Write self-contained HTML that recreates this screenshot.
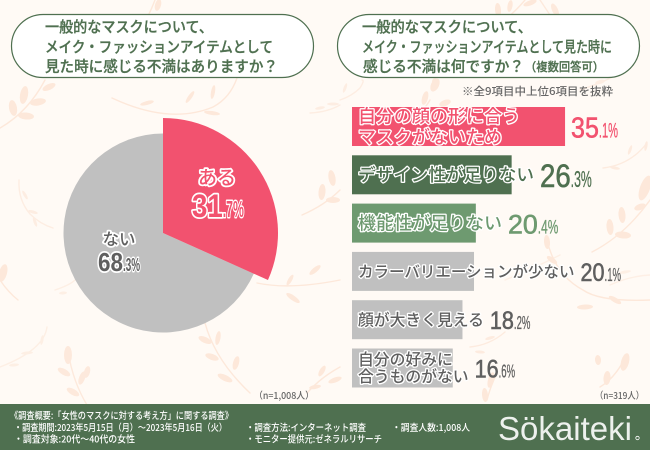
<!DOCTYPE html>
<html lang="ja">
<head>
<meta charset="utf-8">
<title>マスクに対する不満 調査</title>
<style>
html,body{margin:0;padding:0;background:#fffaf5;}
body{width:650px;height:450px;overflow:hidden;}
svg{display:block;}
text{font-family:"Liberation Sans","Noto Sans CJK JP",sans-serif;}
.jp{font-family:"Noto Sans CJK JP","Liberation Sans",sans-serif;font-weight:500;}
.hd{stroke:#4f7050;stroke-width:.3;}
.outlined{paint-order:stroke fill;stroke:#fff;stroke-linejoin:round;}
</style>
</head>
<body>
<svg id="chart" xmlns="http://www.w3.org/2000/svg" width="650" height="450" viewBox="0 0 650 450">
  <rect x="0" y="0" width="650" height="450" fill="#fffaf5"/>
  <g id="leaves"></g>

  <g>
    <rect x="11.5" y="14.5" width="302" height="63" rx="31.5" fill="#fff" stroke="#4f7050" stroke-width="1.2"/>
    <text class="jp hd" x="45" y="32" font-size="15" fill="#4f7050" textLength="168" lengthAdjust="spacingAndGlyphs">一般的なマスクについて、</text>
    <text class="jp hd" x="45" y="52" font-size="15" fill="#4f7050" textLength="228" lengthAdjust="spacingAndGlyphs">メイク・ファッションアイテムとして</text>
    <text class="jp hd" x="45" y="71.5" font-size="15" fill="#4f7050" textLength="233" lengthAdjust="spacingAndGlyphs">見た時に感じる不満はありますか？</text>
  </g>

  <g>
    <rect x="337.5" y="14.5" width="302" height="63" rx="31.5" fill="#fff" stroke="#4f7050" stroke-width="1.2"/>
    <text class="jp hd" x="362" y="32" font-size="15" fill="#4f7050" textLength="170" lengthAdjust="spacingAndGlyphs">一般的なマスクについて、</text>
    <text class="jp hd" x="362" y="52" font-size="15" fill="#4f7050" textLength="250" lengthAdjust="spacingAndGlyphs">メイク・ファッションアイテムとして見た時に</text>
    <text class="jp hd" x="363" y="71.5" font-size="15" fill="#4f7050" textLength="161" lengthAdjust="spacingAndGlyphs">感じる不満は何ですか？</text>
    <text class="jp hd" x="525" y="71" font-size="12" fill="#4f7050" textLength="79" lengthAdjust="spacingAndGlyphs">（複数回答可）</text>
  </g>

  <text class="jp" x="462" y="95" font-size="11" fill="#666" textLength="151" lengthAdjust="spacingAndGlyphs">※全9項目中上位6項目を抜粋</text>

  <g id="pie"></g>
  <g id="bars"></g>

  <text class="jp" x="254" y="399" font-size="9.5" fill="#666" textLength="60" lengthAdjust="spacingAndGlyphs">（n=1,008人）</text>
  <text class="jp" x="595" y="399" font-size="9.5" fill="#666" textLength="49" lengthAdjust="spacingAndGlyphs">（n=319人）</text>

  <g>
    <rect x="0" y="404" width="650" height="46" fill="#4f7050"/>
    <text class="jp" x="10" y="419" font-size="9.5" fill="#fff" textLength="223" lengthAdjust="spacingAndGlyphs">《調査概要:「女性のマスクに対する考え方」に関する調査》</text>
    <text class="jp" x="14" y="431" font-size="9.5" fill="#fff" textLength="213" lengthAdjust="spacingAndGlyphs">・調査期間:2023年5月15日（月）〜2023年5月16日（火）</text>
    <text class="jp" x="14" y="442.5" font-size="9.5" fill="#fff" textLength="121" lengthAdjust="spacingAndGlyphs">・調査対象:20代〜40代の女性</text>
    <text class="jp" x="246" y="431" font-size="9.5" fill="#fff" textLength="120" lengthAdjust="spacingAndGlyphs">・調査方法:インターネット調査</text>
    <text class="jp" x="246" y="442.5" font-size="9.5" fill="#fff" textLength="136" lengthAdjust="spacingAndGlyphs">・モニター提供元:ゼネラルリサーチ</text>
    <text class="jp" x="392" y="431" font-size="9.5" fill="#fff" textLength="78" lengthAdjust="spacingAndGlyphs">・調査人数:1,008人</text>
    <text x="498" y="440" font-size="33" fill="#fff" opacity="0.9" textLength="134" lengthAdjust="spacing">Sökaiteki</text>
    <circle cx="637.5" cy="438" r="1.7" fill="none" stroke="#fff" stroke-width="0.8"/>
  </g>
</svg>

<script>
/* ---------- chart data ---------- */
const pieLabels = ['ある', 'ない'];
const pieValues = [31.7, 68.3];
const barLines = [
  ['自分の顔の形に合う', 'マスクがないため'],
  ['デザイン性が足りない'],
  ['機能性が足りない'],
  ['カラーバリエーションが少ない'],
  ['顔が大きく見える'],
  ['自分の好みに', '合うものがない']
];
const barValues = [35.1, 26.3, 20.4, 20.1, 18.2, 16.6];

/* ---------- presentation ---------- */
const NS = 'http://www.w3.org/2000/svg';
const PIE_CX = 163, PIE_CY = 233;
const pieRadius = [115, 99.5];
const pieColors = ['#f2526f', '#c0c0c0'];
const BAR_X = 352, PX_PER_UNIT = 6.07, BAR_H = 39;
const BAR_TOP = 107, BAR_STEP = 48.3;
const barColors = ['#f2526f', '#4f7050', '#6e9a70', '#c0c0c0', '#c0c0c0', '#c0c0c0'];
const textColors = ['#f2526f', '#4f7050', '#6e9a70', '#5f5f5f', '#5f5f5f', '#5f5f5f'];
const labelSizes = [18, 17.6, 18, 15.5, 15.8, 15.8];
const digitSizes = [29, 32, 27, 25, 25, 25];
const valueWidthScale = [1, 1, 1.15, 1, 1, 1];

function el(name, attrs, parent, text) {
  const node = document.createElementNS(NS, name);
  for (const k in attrs) node.setAttribute(k, attrs[k]);
  if (text !== undefined) node.textContent = text;
  parent.appendChild(node);
  return node;
}

/* Value text: big condensed integer part + small condensed decimal part */
function valueText(parent, value, x, baseline, size, color, outlined, name, widthScale) {
  const parts = value.toFixed(1).split('.');
  const bigW = size * 0.96 * widthScale;
  const smallW = size * 0.66 * widthScale;
  const cls = outlined ? 'outlined' : '';
  const big = el('text', {x: x, y: baseline, 'font-size': size, fill: color, class: cls,
    textLength: bigW, lengthAdjust: 'spacingAndGlyphs'}, parent, parts[0]);
  
  
  const small = el('text', {x: x + bigW, y: baseline, 'font-size': size * 0.72, fill: color, class: cls,
    textLength: smallW, lengthAdjust: 'spacingAndGlyphs'}, parent, '.' + parts[1] + '%');
  
  
  if (outlined) {
    big.setAttribute('stroke-width', 3.5);
    small.setAttribute('stroke-width', 3);
    big.setAttribute('font-weight', 'bold');
    small.setAttribute('font-weight', 'bold');
  } else {
    big.setAttribute('stroke', color);
    big.setAttribute('stroke-width', 0.6);
    small.setAttribute('stroke', color);
    small.setAttribute('stroke-width', 0.3);
  }
  return bigW + smallW;
}

/* ---------- pie ---------- */
const pieG = document.getElementById('pie');
const pieTotal = pieValues.reduce((a, b) => a + b, 0);
function pieSlice(startV, spanV, r, color, name) {
  const a0 = startV / pieTotal * 2 * Math.PI, a1 = (startV + spanV) / pieTotal * 2 * Math.PI;
  const x0 = PIE_CX + r * Math.sin(a0), y0 = PIE_CY - r * Math.cos(a0);
  const x1 = PIE_CX + r * Math.sin(a1), y1 = PIE_CY - r * Math.cos(a1);
  const large = (a1 - a0) > Math.PI ? 1 : 0;
  const p = el('path', {d: `M${PIE_CX} ${PIE_CY}L${x0} ${y0}A${r} ${r} 0 ${large} 1 ${x1} ${y1}Z`, fill: color}, pieG);
  
  
}
pieSlice(pieValues[0], pieValues[1], pieRadius[1], pieColors[1], 'pie-slice-no');
pieSlice(0, pieValues[0], pieRadius[0], pieColors[0], 'pie-slice-yes');

const yesLabel = el('text', {x: 217, y: 184, 'font-size': 19, 'text-anchor': 'middle', fill: '#f2526f',
  class: 'jp outlined', 'stroke-width': 3.5}, pieG, pieLabels[0]);


valueText(pieG, pieValues[0], 192, 217, 32, '#f2526f', true, 'pie-value-yes', 1);

const noLabel = el('text', {x: 119, y: 245, 'font-size': 16.5, 'text-anchor': 'middle', fill: '#5f5f5f',
  class: 'jp outlined', 'stroke-width': 3.5}, pieG, pieLabels[1]);


valueText(pieG, pieValues[1], 98, 271, 26, '#5f5f5f', true, 'pie-value-no', 1);

/* ---------- bars ---------- */
const barsG = document.getElementById('bars');
barValues.forEach((v, i) => {
  const top = BAR_TOP + i * BAR_STEP;
  const w = v * PX_PER_UNIT;
  const barEnd = BAR_X + w;
  const bar = el('rect', {x: BAR_X, y: top, width: w, height: BAR_H, fill: barColors[i]}, barsG);
  
  

  const lines = barLines[i];
  const fs = labelSizes[i];
  const cy = top + BAR_H / 2;
  let labelEnd = 0;
  lines.forEach((line, j) => {
    const spacing = fs > 16 ? 21 : 17;
    const y = cy + (j - (lines.length - 1) / 2) * spacing + fs * 0.36;
    const t = el('text', {x: BAR_X + 6, y: y, 'font-size': fs, fill: textColors[i],
      class: 'jp outlined', 'stroke-width': 2.6}, barsG, line);
    
    
    labelEnd = Math.max(labelEnd, BAR_X + 6 + t.getComputedTextLength());
  });

  const size = digitSizes[i];
  const valX = Math.max(barEnd, labelEnd) + 6;
  valueText(barsG, v, valX, cy + size * 0.36 + 0.5, size, textColors[i], false, 'bar-value-' + (i + 1), valueWidthScale[i]);
});

/* ---------- decorative leaves ---------- */
const leafG = document.getElementById('leaves');
const branches = [
  ['M0 128Q28 112 45 80', [[24,95,4,9,10],[13,108,4,8,-10],[38,102,8,3.5,-10],[26,116,8,3.5,5],[49,87,7,3,-25]], 1],
  ['M112 98Q170 125 213 107Q230 98 237 78', [[147,103,7,2,-15],[190,97,2,7,35],[213,92,2,7,10],[212,113,8,2,8]], 1],
  ['M310 113Q328 112 340 105', [[320,108,5,1.5,-10],[333,104,6,1.5,0]], .7],
  ['M302 215Q325 205 340 190', [[322,192,3.5,8,5],[332,178,3.5,8,-10],[333,200,7,3,0]], 1],
  ['M19 180Q18 200 30 214Q40 224 53 228', [[25,195,1.5,5,-30],[33,212,5,1.5,15],[35,222,1.5,5,-20]], .7],
  ['M0 280Q8 292 18 300', [[3,273,4,9,15]], 1],
  ['M257 283Q290 290 340 280', [[315,270,7,2.5,-40],[293,298,8,2.5,35],[290,280,2,6,30]], 1],
  ['M205 323Q215 360 250 393', [[218,338,2.5,7,10],[205,340,7,3,25],[212,357,7,3,20],[236,363,3,7,15],[225,378,8,3,25]], 1],
  ['M68 350Q72 380 87 405', [[68,355,4,9,0],[64,372,7,3,30],[82,378,3,7,20],[73,392,7,3,30],[87,372,3,6,15]], .9],
  ['M307 393Q320 378 340 367', [[322,371,2.5,6,30],[335,380,7,2.5,-20],[315,387,6,2,-10]], 1],
  ['M47 327Q44 350 0 367', [[42,340,1.5,5,10],[27,353,6,1.5,-5],[14,365,5,1.5,-5]], .6],
  ['M55 290Q70 285 75 280', [[63,293,4,1.5,-5]], .6],
  ['M155 0Q152 8 148 16', [[158,5,3,6,15]], 1],
  ['M500 24Q515 12 525 0', [[498,10,3,7,-5],[510,6,2.5,6,10],[530,3,7,2.5,-20]], 1],
  ['M592 252Q625 235 650 200', [[645,188,5,13,20],[622,215,3.5,8,-5],[610,227,3.5,8,-5],[623,235,8,3.5,5],[640,207,6,3,-20]], 1],
  ['M547 240Q555 275 583 290Q600 302 650 300', [[547,242,3,7,-5],[552,260,6,2.5,35],[585,307,8,2.5,-3],[615,300,7,2.5,30]], 1],
  ['M470 347Q490 345 505 332', [[490,338,5,1.5,-15],[480,352,5,1.5,5]], .8],
  ['M600 387Q615 378 625 358', [[625,362,4,9,15],[607,378,3.5,7,5],[598,360,3,5,-5]], 1],
  ['M603 168Q630 165 647 143', [[630,150,1.5,5,20],[615,168,5,1.5,10],[646,146,1.5,5,10]], .8],
  ['M580 90Q610 80 625 70', [[600,82,5,2,-15]], .7],
  ['M430 100Q415 125 400 115', [[435,85,4,7,25],[425,98,3,7,15],[445,103,6,3,-20],[435,82,3,4,0]], 1],
  ['M340 100Q352 96 360 88Q365 80 362 80', [[345,88,1.5,5,20]], .7],
  ['M487 400Q490 388 496 375', [[485,395,3,7,-5],[491,380,3,8,15]], 1],
  ['M505 280Q530 270 560 255', [[530,268,1.5,5,35]], .6],
  ['M610 285Q630 276 650 275', [[625,272,6,1.5,-10]], .6],
  ['M560 30Q550 15 540 0', [[555,10,3,7,-25]], .9]
];
branches.forEach(b => {
  const g = el('g', {opacity: b[2]}, leafG);
  el('path', {d: b[0], fill: 'none', stroke: '#fde8da', 'stroke-width': 1.4, 'stroke-linecap': 'round'}, g);
  b[1].forEach(l => {
    el('ellipse', {cx: l[0], cy: l[1], rx: l[2], ry: l[3], fill: '#fde8da',
      transform: `rotate(${l[4]} ${l[0]} ${l[1]})`}, g);
  });
});
</script>
</body>
</html>
